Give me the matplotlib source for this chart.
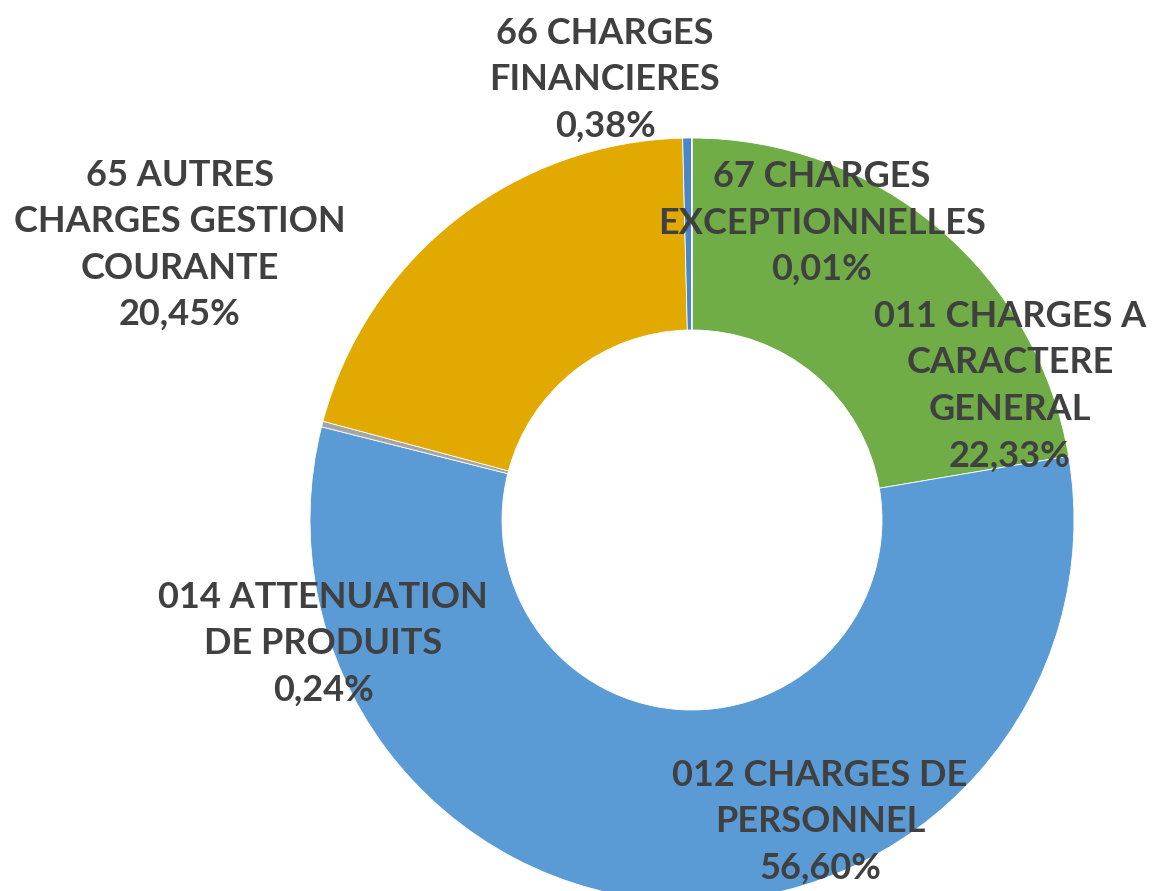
import matplotlib
matplotlib.use('Agg')
import matplotlib.pyplot as plt

# données (ordre horaire depuis midi)
labels = ['011 CHARGES A\nCARACTERE\nGENERAL', '012 CHARGES DE\nPERSONNEL',
          '014 ATTENUATION\nDE PRODUITS', '65 AUTRES\nCHARGES GESTION\nCOURANTE',
          '66 CHARGES\nFINANCIERES', '67 CHARGES\nEXCEPTIONNELLES']
values = [22.33, 56.60, 0.24, 20.45, 0.38, 0.01]
colors = ['#70AD47', '#5B9BD5', '#A5A5A5', '#E2AA00', '#4A86C8', '#264478']

# positions des étiquettes (pixels, centre du bloc)
label_pos = [(1010, 386), (820, 822), (323, 644), (180, 245), (605, 80), (822, 223)]

fig = plt.figure(figsize=(11.57, 8.91), dpi=100)
ax = fig.add_axes([0, 0, 1, 1])
ax.set_xlim(0, 1157)
ax.set_ylim(891, 0)
ax.set_aspect('equal')
ax.axis('off')

ax.pie(values, colors=colors, center=(692, 520), radius=382,
       startangle=-90, counterclock=True,
       wedgeprops=dict(width=192, edgecolor='white', linewidth=0.6))
ax.set_xlim(0, 1157)
ax.set_ylim(891, 0)

for lab, val, (x, y) in zip(labels, values, label_pos):
    txt = lab + '\n' + f'{val:.2f}%'.replace('.', ',')
    ax.text(x, y, txt, ha='center', va='center', fontsize=26, fontweight='bold',
            family='Lato', color='#404040', linespacing=1.5)

fig.savefig('out.png', dpi=100, facecolor='white')
